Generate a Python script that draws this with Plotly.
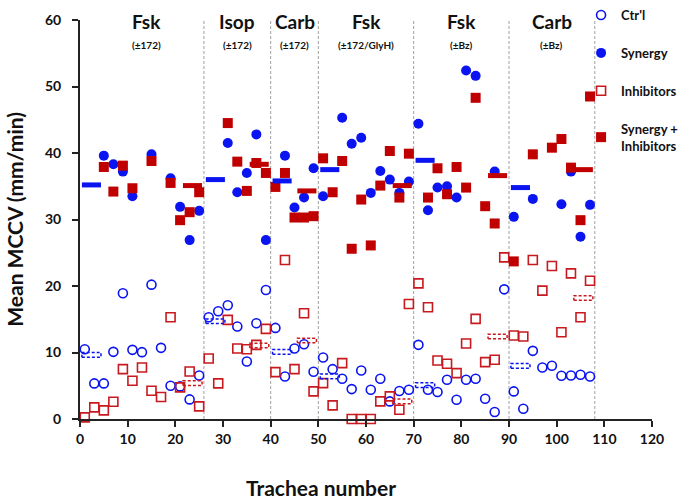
import plotly.graph_objects as go

# ---------------- data ----------------
trachea = list(range(1, 108, 2))  # 1,3,...,107

ctrl = [10.5, 5.35, 5.35, 10.1, 18.9, 10.4, 10.05, 20.2, 10.7, 5.0, 4.9, 2.95, 6.55,
        15.3, 16.2, 17.1, 13.9, 8.65, 14.4, 19.4,
        13.7, 6.4, 10.6, 11.25, 7.1,
        9.25, 7.5, 6.05, 4.5, 7.3, 4.4, 6.05, 2.65, 4.2, 4.4,
        11.15, 4.4, 4.05, 5.9, 2.9, 5.9, 6.05, 3.05, 1.05, 19.5,
        4.15, 1.55, 10.25, 7.75, 8.0, 6.5, 6.55, 6.65, 6.4]

synergy = [None, None, 39.6, 38.3, 37.2, 33.5, None, 39.8, None, 36.2, 31.9, 26.9, 31.3,
           None, None, 41.5, 34.1, 37.0, 42.8, 26.9,
           None, 39.6, 31.8, 33.3, 37.7,
           33.5, None, 45.3, 41.4, 42.3, 34.0, 37.3, 36.0, 34.0, 35.7,
           44.4, 31.4, 34.8, 35.0, 33.3, 52.4, 51.6, None, 37.2, None,
           30.4, None, 33.1, None, None, 32.3, 37.2, 27.4, 32.2]

inhibitors = [0.25, 1.75, 1.3, 2.6, 7.5, 5.75, 7.75, 4.25, 3.3, 15.3, 4.75, 7.15, 1.9,
              9.1, 5.35, 14.9, 10.6, 10.5, 11.15, 13.55,
              7.05, 23.9, 7.5, 15.9, 4.15,
              5.4, 2.05, 8.4, 0.0, 0.0, 0.0, 2.65, 3.4, 1.4, 17.3,
              20.4, 16.8, 8.8, 8.3, 6.9, 11.35, 15.05, 8.55, 8.9, 24.3,
              12.55, 12.4, 23.9, 19.3, 23.0, 13.05, 21.9, 15.3, 20.8]

syn_inh = [None, None, 37.9, 34.2, 38.1, 34.7, None, 38.8, None, 35.5, 29.9, 31.1, 34.1,
           None, None, 44.5, 38.7, 34.3, 38.5, 37.0,
           34.9, 37.0, 30.3, 30.3, 30.5,
           39.2, 34.1, 38.8, 25.6, 33.0, 26.1, 35.1, 40.3, 33.3, 39.9,
           None, 33.3, 37.7, 33.8, 37.9, 34.8, 48.3, 32.0, 29.4, None,
           23.7, None, 39.8, None, 40.8, 42.1, 37.8, 29.9, 48.5]

group_start = [0, 26, 40, 50, 70, 90]
group_end = [26, 40, 50, 70, 90, 108]
group_center = [14, 33, 45, 60, 80, 99]
group_name = ["Fsk", "Isop", "Carb", "Fsk", "Fsk", "Carb"]
group_sub = ["(±172)", "(±172)", "(±172)", "(±172/GlyH)", "(±Bz)", "(±Bz)"]

mean_ctrl = [9.65, 14.7, 10.1, 6.4, 5.1, 8.0]
mean_syn = [35.2, 36.0, 35.8, 37.5, 38.9, 34.8]
mean_inh = [5.4, 11.05, 11.8, 2.65, 12.4, 18.2]
mean_syninh = [35.1, 38.3, 34.3, 35.1, 36.6, 37.5]

x_ticks = list(range(0, 121, 10))
y_ticks = list(range(0, 61, 10))

# ---------------- styles ----------------
BLUE = "#0a14f0"
RED = "#c00000"
RED_OPEN = "#c8191e"
FONT = "Lato"
BAR_W = 4.0
BAR_OFF = 0.4
HALF_H = 0.35

fig = go.Figure()

fig.add_trace(go.Scatter(x=trachea, y=ctrl, mode="markers", name="Ctr'l",
                         legendgroup="a", legendrank=1, cliponaxis=False,
                         marker=dict(symbol="circle-open", size=9, color=BLUE,
                                     line=dict(width=1.6, color=BLUE))))
fig.add_trace(go.Scatter(x=trachea, y=inhibitors, mode="markers", name="Inhibitors",
                         legendgroup="c", legendrank=3, cliponaxis=False,
                         marker=dict(symbol="square-open", size=9, color=RED_OPEN,
                                     line=dict(width=1.6, color=RED_OPEN))))
fig.add_trace(go.Scatter(x=trachea, y=synergy, mode="markers", name="Synergy",
                         legendgroup="b", legendrank=2, cliponaxis=False,
                         marker=dict(symbol="circle", size=10, color=BLUE)))
fig.add_trace(go.Scatter(x=trachea, y=syn_inh, mode="markers",
                         name="Synergy +<br>Inhibitors",
                         legendgroup="d", legendrank=4, cliponaxis=False,
                         marker=dict(symbol="square", size=10, color=RED)))


def solid_bars(means, left):
    xs, ys = [], []
    for s, e, m in zip(group_start, group_end, means):
        x0 = s + BAR_OFF if left else e - BAR_OFF - BAR_W
        xs += [x0, x0 + BAR_W, None]
        ys += [m, m, None]
    return xs, ys


def hollow_bars(means, left):
    xs, ys = [], []
    for s, e, m in zip(group_start, group_end, means):
        x0 = s + BAR_OFF if left else e - BAR_OFF - BAR_W
        x1 = x0 + BAR_W
        xs += [x0, x1, x1, x0, x0, None]
        ys += [m - HALF_H, m - HALF_H, m + HALF_H, m + HALF_H, m - HALF_H, None]
    return xs, ys


for means, left, color in [(mean_ctrl, True, BLUE), (mean_inh, False, RED_OPEN)]:
    xs, ys = hollow_bars(means, left)
    fig.add_trace(go.Scatter(x=xs, y=ys, mode="lines", showlegend=False,
                             hoverinfo="skip", cliponaxis=False,
                             line=dict(color=color, width=1.5, dash="3px,2px")))
for means, left, color in [(mean_syn, True, BLUE), (mean_syninh, False, RED)]:
    xs, ys = solid_bars(means, left)
    fig.add_trace(go.Scatter(x=xs, y=ys, mode="lines", showlegend=False,
                             hoverinfo="skip", cliponaxis=False,
                             line=dict(color=color, width=5)))

# dashed separators
for b in group_end:
    fig.add_shape(type="line", xref="x", yref="y", x0=b, x1=b, y0=0, y1=60.6,
                  line=dict(color="#a0a0a0", width=1, dash="3px,2px"), layer="below")

# group labels
for c, n, s in zip(group_center, group_name, group_sub):
    fig.add_annotation(x=c, y=59.7, xref="x", yref="y", text=n, showarrow=False,
                       font=dict(family=FONT, size=19, color="#111", weight="bold"),
                       yanchor="middle")
    fig.add_annotation(x=c, y=56.3, xref="x", yref="y", text=s, showarrow=False,
                       font=dict(family=FONT, size=10, color="#111", weight="bold"),
                       yanchor="middle")

# axis titles
fig.add_annotation(x=50.5, y=-0.172, xref="x", yref="paper", text="Trachea number",
                   showarrow=False, yanchor="middle",
                   font=dict(family=FONT, size=21, color="#111", weight="bold"))
fig.add_annotation(x=-0.115, y=0.5, xref="paper", yref="paper",
                   text="Mean MCCV (mm/min)", textangle=-90, showarrow=False,
                   xanchor="center", yanchor="middle",
                   font=dict(family=FONT, size=21, color="#111", weight="bold"))

fig.update_layout(
    width=685, height=502,
    margin=dict(l=80, r=33, t=20, b=83, autoexpand=False),
    paper_bgcolor="white", plot_bgcolor="white",
    font=dict(family=FONT, color="#111"),
    legend=dict(x=0.876, y=1.05, xanchor="left", yanchor="top",
                bgcolor="rgba(0,0,0,0)", tracegroupgap=18,
                font=dict(family=FONT, size=13, color="#111", weight="bold"),
                itemwidth=30),
)
fig.update_xaxes(range=[0, 120], tickvals=x_ticks, ticks="outside", ticklen=6,
                 tickwidth=1.5, tickcolor="#222", showline=True, linecolor="#222",
                 linewidth=2, showgrid=False, zeroline=False, automargin=False,
                 tickfont=dict(family=FONT, size=14, color="#111", weight="bold"))
fig.update_yaxes(range=[0, 60], tickvals=y_ticks, ticks="outside", ticklen=6,
                 tickwidth=1.5, tickcolor="#222", showline=True, linecolor="#222",
                 linewidth=2, showgrid=False, zeroline=False, ticklabelstandoff=8,
                 automargin=False,
                 tickfont=dict(family=FONT, size=14, color="#111", weight="bold"))

fig.write_html("out.html",
               config={"displayModeBar": False},
               post_script="document.body.style.margin='0';"
                           "document.body.style.overflow='hidden';")
